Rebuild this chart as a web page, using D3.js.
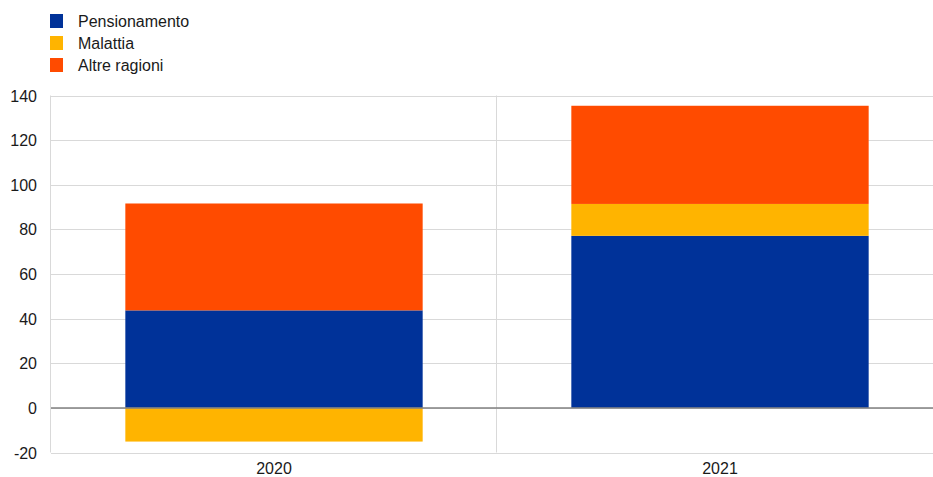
<!DOCTYPE html>
<html><head><meta charset="utf-8">
<script src="https://cdn.jsdelivr.net/npm/d3@7"></script>
<style>body{margin:0;background:#fff;overflow:hidden}svg{display:block;font-family:"Liberation Sans",Arial,sans-serif}</style>
</head><body><svg id="c" width="933" height="477"></svg>
<script>
const categories = ["2020", "2021"];
const seriesNames = ["Pensionamento", "Malattia", "Altre ragioni"];
const pensionamento = [43.7, 77.1];
const malattia = [-15.1, 14.3];
const altreRagioni = [47.9, 44.0];
const yTicks = [-20, 0, 20, 40, 60, 80, 100, 120, 140];
const colors = ["#003299", "#ffb400", "#ff4b00"];

const svg = d3.select("#c");
const L = 51, R = 943, T = 95.5, B = 452.5;
const x = d3.scaleBand().domain(categories).range([L, R]).padding(0);
const y = d3.scaleLinear().domain([-20, 140]).range([B, T]);

// gridlines
svg.append("g").selectAll("line").data(yTicks).join("line")
  .attr("x1", L).attr("x2", R).attr("y1", d => Math.round(y(d)) + 0.5).attr("y2", d => Math.round(y(d)) + 0.5)
  .attr("stroke", "#d9d9d9").attr("stroke-width", 1);
// vertical separators
const vx = [L, x("2021")];
svg.append("g").selectAll("line").data(vx).join("line")
  .attr("x1", d => Math.round(d) - 0.5).attr("x2", d => Math.round(d) - 0.5)
  .attr("y1", T).attr("y2", B).attr("stroke", "#d9d9d9");

// stacking with positive/negative
const series = [pensionamento, malattia, altreRagioni];
const bars = [];
categories.forEach((c, i) => {
  let pos = 0, neg = 0;
  series.forEach((s, k) => {
    const v = s[i];
    let y0, y1;
    if (v >= 0) { y0 = pos; y1 = pos + v; pos = y1; } else { y0 = neg; y1 = neg + v; neg = y1; }
    bars.push({c, k, y0, y1});
  });
});
const bw = x.bandwidth();
svg.append("g").selectAll("rect").data(bars).join("rect")
  .attr("x", d => x(d.c) + bw / 6)
  .attr("width", bw * 2 / 3)
  .attr("y", d => y(Math.max(d.y0, d.y1)))
  .attr("height", d => Math.abs(y(d.y0) - y(d.y1)))
  .attr("fill", d => colors[d.k]);

// zero line
svg.append("line").attr("x1", L).attr("x2", R).attr("y1", y(0)).attr("y2", y(0))
  .attr("stroke", "#808080").attr("stroke-width", 1.5);

// y labels
svg.append("g").selectAll("text").data(yTicks).join("text")
  .attr("x", 37).attr("y", d => y(d) + 6).attr("text-anchor", "end")
  .attr("font-size", 16).attr("fill", "#1a1a1a").text(d => d);
// x labels
svg.append("g").selectAll("text").data(categories).join("text")
  .attr("x", d => x(d) + bw / 2).attr("y", 474).attr("text-anchor", "middle")
  .attr("font-size", 16).attr("fill", "#1a1a1a").text(d => d);

// legend
const lg = svg.append("g").selectAll("g").data(seriesNames).join("g")
  .attr("transform", (d, i) => `translate(50, ${14 + i * 22})`);
lg.append("rect").attr("width", 13).attr("height", 14).attr("fill", (d, i) => colors[i]);
lg.append("text").attr("x", 28).attr("y", 13).attr("font-size", 16).attr("fill", "#1a1a1a").text(d => d);
</script></body></html>
